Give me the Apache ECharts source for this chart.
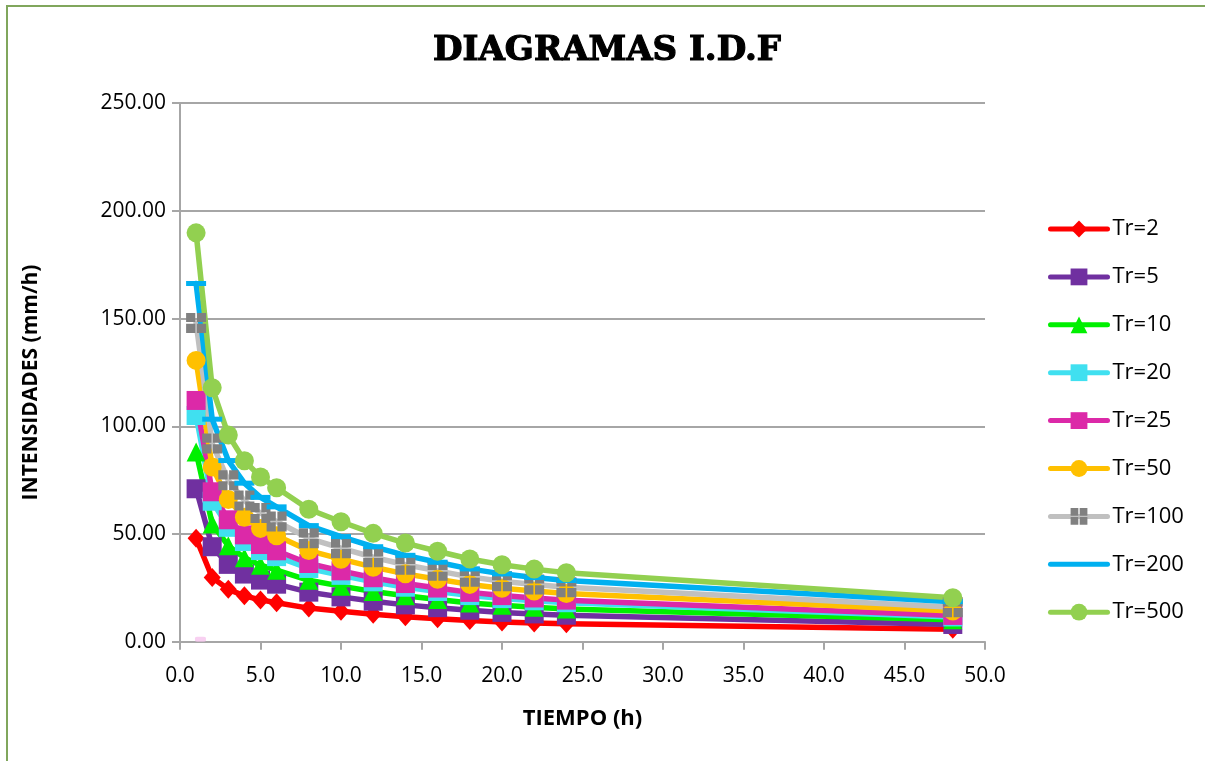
<!DOCTYPE html>
<html>
<head>
<meta charset="utf-8">
<style>
html,body{margin:0;padding:0;background:#fff;}
#chart{width:1205px;height:761px;}
</style>
<script src="https://cdn.jsdelivr.net/npm/echarts@6/dist/echarts.min.js"></script>
</head>
<body>
<div id="chart"></div>
<script>
// ---- data ----
const tiempo = [1, 2, 3, 4, 5, 6, 8, 10, 12, 14, 16, 18, 20, 22, 24, 48];
const tr2   = [48.0, 29.8, 24.3, 21.3, 19.4, 18.1, 15.6, 14.1, 12.7, 11.6, 10.6, 9.8, 9.2, 8.7, 8.3, 5.8];
const tr5   = [71.0, 44.1, 35.9, 31.4, 28.6, 26.7, 23.0, 20.8, 18.8, 17.1, 15.8, 14.6, 13.6, 12.9, 12.3, 8.0];
const tr10  = [88.1, 54.7, 44.5, 39.0, 35.5, 33.2, 28.5, 25.8, 23.3, 21.3, 19.6, 18.0, 16.9, 16.0, 15.2, 10.2];
const tr20  = [105.0, 65.2, 53.1, 46.5, 42.3, 39.5, 34.0, 30.8, 27.8, 25.3, 23.3, 21.4, 20.0, 19.0, 18.1, 11.5];
const tr25  = [112.0, 69.6, 56.6, 49.6, 45.1, 42.2, 36.3, 32.9, 29.7, 27.0, 24.9, 22.9, 21.4, 20.3, 19.3, 12.2];
const tr50  = [130.6, 81.1, 66.0, 57.8, 52.6, 49.2, 42.3, 38.3, 34.6, 31.5, 29.0, 26.6, 24.8, 23.5, 22.4, 14.2];
const tr100 = [148.0, 92.0, 74.9, 65.5, 59.7, 55.8, 48.0, 43.4, 39.2, 35.7, 32.9, 30.1, 28.1, 26.6, 25.3, 16.0];
const tr200 = [166.3, 103.3, 84.1, 73.6, 67.0, 62.6, 53.9, 48.8, 44.1, 40.1, 36.9, 33.8, 31.5, 29.8, 28.4, 18.6];
const tr500 = [189.8, 117.9, 96.0, 84.0, 76.5, 71.5, 61.5, 55.7, 50.3, 45.8, 42.0, 38.4, 35.7, 33.7, 32.0, 20.4];
const seriesNames = ['Tr=2', 'Tr=5', 'Tr=10', 'Tr=20', 'Tr=25', 'Tr=50', 'Tr=100', 'Tr=200', 'Tr=500'];
const strayX = [1.27];
const strayY = [0];
const yTicks = [0, 50, 100, 150, 200, 250];
const xTicks = [0, 5, 10, 15, 20, 25, 30, 35, 40, 45, 50];
const chartTitle = 'DIAGRAMAS I.D.F';
const xTitle = 'TIEMPO (h)';
const yTitle = 'INTENSIDADES (mm/h)';

// ---- styles ----
const allValues = [tr2, tr5, tr10, tr20, tr25, tr50, tr100, tr200, tr500];
const styles = [
  {line: '#FF0000', mark: '#FF0000', symbol: 'diamond', size: [17, 19]},
  {line: '#7030A0', mark: '#7030A0', symbol: 'rect', size: 19},
  {line: '#00F000', mark: '#00F000', symbol: 'triangle', size: 19},
  {line: '#40E0F0', mark: '#40E0F0', symbol: 'rect', size: 19},
  {line: '#DC29A8', mark: '#DC29A8', symbol: 'rect', size: 19},
  {line: '#FFC000', mark: '#FFC000', symbol: 'circle', size: 19},
  {line: '#C0C0C0', mark: '#808080', symbol: 'path://M0,0H9.2V9.2H0ZM10.8,0H20V9.2H10.8ZM0,10.8H9.2V20H0ZM10.8,10.8H20V20H10.8Z', size: 20},
  {line: '#00B0F0', mark: '#00B0F0', symbol: 'rect', size: [20, 5]},
  {line: '#92D050', mark: '#92D050', symbol: 'circle', size: 19}
];

const FONT = 'Open Sans';
const series = allValues.map((vals, i) => ({
  name: seriesNames[i],
  type: 'line',
  data: tiempo.map((t, j) => [t, vals[j]]),
  symbol: styles[i].symbol,
  symbolSize: styles[i].size,
  showSymbol: true,
  smooth: false,
  clip: false,
  lineStyle: {color: styles[i].line, width: 5.5, cap: 'round', join: 'round'},
  itemStyle: {color: styles[i].mark, borderWidth: 0},
  emphasis: {disabled: true},
  animation: false
}));
series.push({
  name: 'stray',
  type: 'scatter',
  data: strayX.map((x, j) => [x, strayY[j]]),
  symbol: 'roundRect',
  symbolSize: [11, 5],
  symbolOffset: [0, -2.5],
  itemStyle: {color: '#F6C4EE'},
  silent: true,
  animation: false
});

const legendData = seriesNames.map((n, i) => (i === 7 ? {name: n, itemStyle: {opacity: 0}} : {name: n}));

const chart = echarts.init(document.getElementById('chart'), null, {renderer: 'canvas'});
chart.setOption({
  backgroundColor: '#ffffff',
  animation: false,
  graphic: [
    {type: 'rect', shape: {x: 7, y: 6, width: 1400, height: 1000}, style: {fill: 'none', stroke: '#80A65C', lineWidth: 2}, silent: true, z: -1},
    {type: 'text', x: 607, y: 51, style: {text: chartTitle, font: 'bold 34px "DejaVu Serif"', fill: '#000', textAlign: 'center', textVerticalAlign: 'middle', stroke: '#000', lineWidth: 1.2}}
  ],
  grid: {left: 180, right: 220, top: 103.2, bottom: 119.3, containLabel: false},
  legend: {
    orient: 'vertical',
    left: 1043,
    top: 213,
    itemWidth: 57,
    itemHeight: 21,
    itemGap: 25.9,
    data: legendData,
    lineStyle: {width: 5, cap: 'round'},
    textStyle: {fontFamily: FONT, fontSize: 22, color: '#000'},
    selectedMode: false
  },
  xAxis: {
    type: 'value',
    min: xTicks[0],
    max: xTicks[xTicks.length - 1],
    interval: xTicks[1] - xTicks[0],
    name: xTitle,
    nameLocation: 'middle',
    nameGap: 66,
    nameTextStyle: {fontFamily: FONT, fontSize: 22, fontWeight: 'bold', color: '#000'},
    axisLine: {show: true, onZero: false, lineStyle: {color: '#A6A6A6', width: 2}},
    axisTick: {show: true, inside: false, length: 8, lineStyle: {color: '#A6A6A6', width: 2}},
    axisLabel: {fontFamily: FONT, fontSize: 21, color: '#000', margin: 24, formatter: v => v.toFixed(1)},
    splitLine: {show: false}
  },
  yAxis: {
    type: 'value',
    min: yTicks[0],
    max: yTicks[yTicks.length - 1],
    interval: yTicks[1] - yTicks[0],
    name: yTitle,
    nameLocation: 'middle',
    nameRotate: 90,
    nameGap: 138,
    nameTextStyle: {fontFamily: FONT, fontSize: 21, fontWeight: 'bold', color: '#000', padding: [0, 20, 0, 0]},
    axisLine: {show: true, lineStyle: {color: '#A6A6A6', width: 2}},
    axisTick: {show: true, inside: false, length: 8, lineStyle: {color: '#A6A6A6', width: 2}},
    axisLabel: {fontFamily: FONT, fontSize: 21, color: '#000', margin: 14, formatter: v => v.toFixed(2)},
    splitLine: {show: true, lineStyle: {color: '#A6A6A6', width: 2}}
  },
  series: series
});
</script>
</body>
</html>
